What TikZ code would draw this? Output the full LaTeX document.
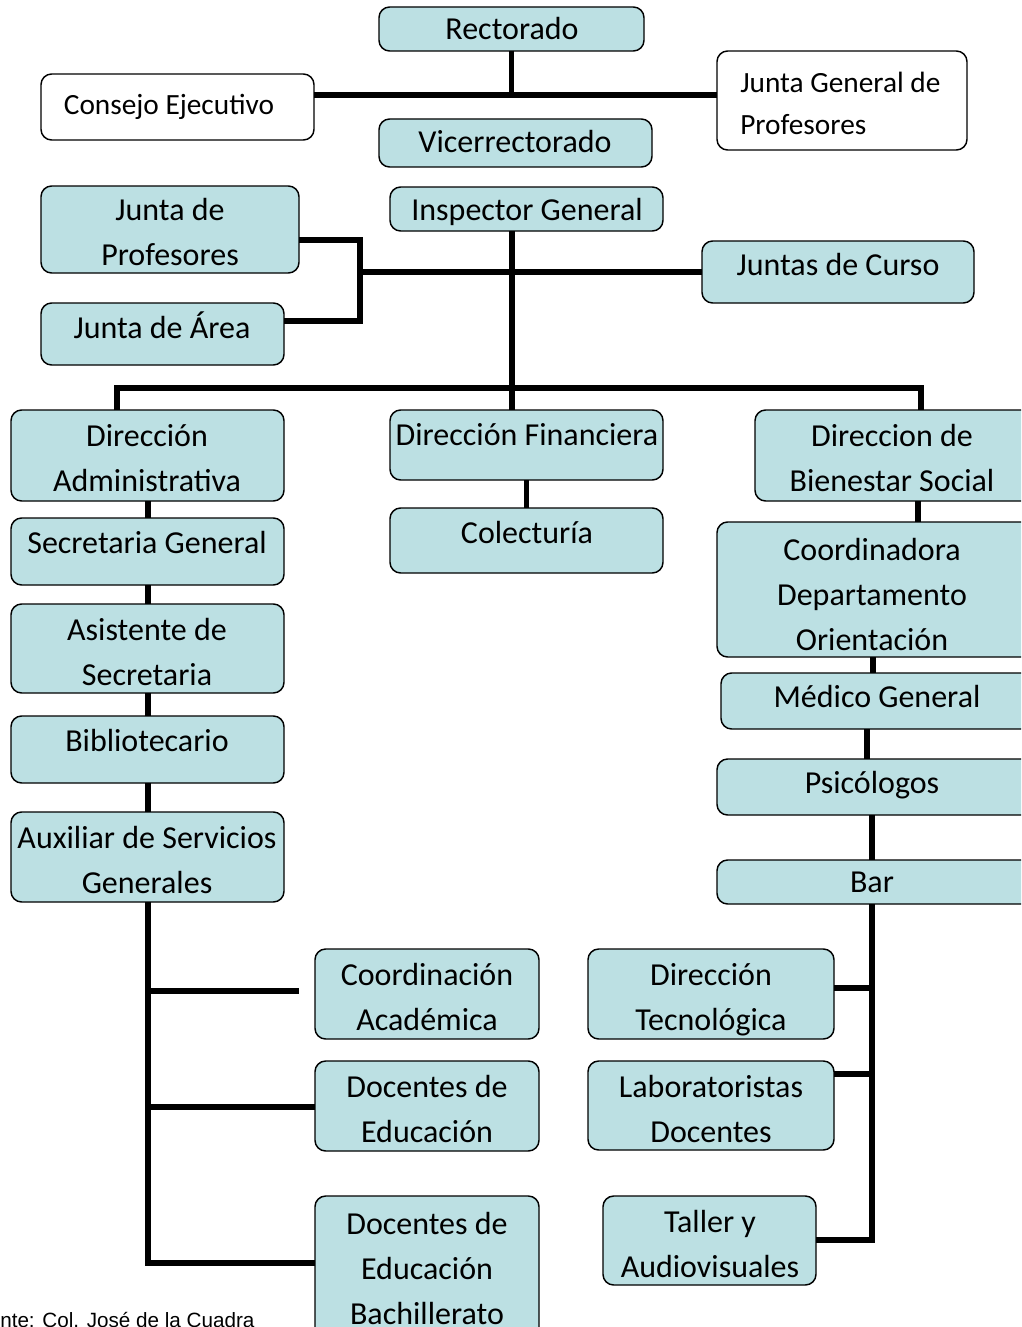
\documentclass[tikz,border=0pt]{standalone}
\usepackage{fontspec}
\setmainfont{Carlito}
\newfontfamily\arialfont{Liberation Sans}
\usetikzlibrary{fit}
\definecolor{boxblue}{RGB}{188,224,227}
\tikzset{
  box/.style={draw=black, line width=1.1pt, rounded corners=8pt, fill=boxblue, inner sep=0pt, outer sep=0pt},
  wbox/.style={box, fill=white},
  txt/.style={inner sep=0pt, align=center, anchor=base, font=\fontsize{24}{33.75}\selectfont},
  conn/.style={draw=black, line width=4.1pt},
}
\newcommand\orgbox[6]{\node[#6, fit={(#2,#3) (#4,#5)}] (#1) {};}
\begin{document}
\begin{tikzpicture}[x=0.75pt, y=-0.75pt]
\useasboundingbox (0,0) rectangle (1021,1327);
\clip (0,0) rectangle (1021,1327);
\fill[white] (0,0) rectangle (1021,1327);

\coordinate (cA) at (511.5,95);
\coordinate (cB) at (512,388);
\coordinate (cC) at (360,272);
\coordinate (cD) at (360,240);
\coordinate (cE) at (360,321);
\coordinate (cF) at (117,388);
\coordinate (cG) at (921,388);
\coordinate (cH) at (148,1263);
\coordinate (cI) at (148,991);
\coordinate (cJ) at (299,991);
\coordinate (cK) at (148,1107);
\coordinate (cL) at (918,0);
\coordinate (cM) at (873,0);
\coordinate (cN) at (867,0);
\coordinate (cP) at (872,1240);
\coordinate (cQ) at (872,988);
\coordinate (cR) at (872,1074);

% boxes
\orgbox{rect}{379}{7}{644}{51}{box}
\orgbox{cons}{41}{74}{314}{140}{wbox}
\orgbox{jgp}{717}{51}{967}{150}{wbox}
\orgbox{vice}{379}{119}{652}{167}{box}
\orgbox{insp}{390}{187}{663}{231}{box}
\orgbox{jprof}{41}{186}{299}{273}{box}
\orgbox{jarea}{41}{303}{284}{365}{box}
\orgbox{jcur}{702}{241}{974}{303}{box}
\orgbox{dadm}{11}{410}{284}{501}{box}
\orgbox{dfin}{390}{410}{663}{480}{box}
\orgbox{dbien}{755}{410}{1040}{501}{box}
\orgbox{secg}{11}{518}{284}{585}{box}
\orgbox{colec}{390}{508}{663}{573}{box}
\orgbox{coord}{717}{522}{1040}{657}{box}
\orgbox{asis}{11}{604}{284}{693}{box}
\orgbox{med}{721}{673}{1040}{729}{box}
\orgbox{bib}{11}{716}{284}{783}{box}
\orgbox{psi}{717}{759}{1040}{815}{box}
\orgbox{aux}{11}{812}{284}{902}{box}
\orgbox{bar}{717}{860}{1040}{904}{box}
\orgbox{cacad}{315}{949}{539}{1039}{box}
\orgbox{doce}{315}{1061}{539}{1151}{box}
\orgbox{docb}{315}{1196}{539}{1345}{box}
\orgbox{dtec}{588}{949}{834}{1039}{box}
\orgbox{lab}{588}{1061}{834}{1150}{box}
\orgbox{tall}{603}{1196}{816}{1285}{box}

% connectors
\draw[conn] (rect.south) -- (cA);
\draw[conn] (cons.east |- cA) -- (jgp.west |- cA);
\draw[conn] (cB |- insp.south) -- (cB);
\draw[conn] (cC) -- (jcur.west |- cC);
\draw[conn] (jprof.east |- cD) -- (cD) -- (cE) -- (jarea.east |- cE);
\draw[conn] (cF |- dadm.north) -- (cF) -- (cG) -- (cG |- dbien.north);
\draw[conn] (cB) -- (cB |- dfin.north);
\draw[conn] (dfin.south) -- (colec.north);
\draw[conn] (cI |- dadm.south) -- (cI |- secg.north);
\draw[conn] (cI |- secg.south) -- (cI |- asis.north);
\draw[conn] (cI |- asis.south) -- (cI |- bib.north);
\draw[conn] (cI |- bib.south) -- (cI |- aux.north);
\draw[conn] (cI |- aux.south) -- (cH) -- (docb.west |- cH);
\draw[conn] (cI) -- (cJ);
\draw[conn] (cK) -- (doce.west |- cK);
\draw[conn] (cL |- dbien.south) -- (cL |- coord.north);
\draw[conn] (cM |- coord.south) -- (cM |- med.north);
\draw[conn] (cN |- med.south) -- (cN |- psi.north);
\draw[conn] (cP |- psi.south) -- (cP |- bar.north);
\draw[conn] (cP |- bar.south) -- (cP) -- (tall.east |- cP);
\draw[conn] (dtec.east |- cQ) -- (cQ);
\draw[conn] (lab.east |- cR) -- (cR);

% texts (anchor = baseline of the last line)
\node[txt] (t-rect) at (512,40) {Rectorado};
\node[txt, font=\fontsize{22}{31.5}\selectfont] (t-cons) at (169,115) {Consejo Ejecutivo};
\node[txt, anchor=base west, align=left, font=\fontsize{22}{31.5}\selectfont] (t-jgp) at (740,135) {Junta General de\\Profesores};
\node[txt] (t-vice) at (515,152) {Vicerrectorado};
\node[txt] (t-insp) at (527,220) {Inspector General};
\node[txt] (t-jprof) at (170,265) {Junta de\\Profesores};
\node[txt] (t-jarea) at (162,338) {Junta de Área};
\node[txt] (t-jcur) at (838,275) {Juntas de Curso};
\node[txt] (t-dadm) at (147,491) {Dirección\\Administrativa};
\node[txt] (t-dfin) at (527,445) {Dirección Financiera};
\node[txt] (t-dbien) at (892,491) {Direccion de\\Bienestar Social};
\node[txt] (t-secg) at (147,553) {Secretaria General};
\node[txt] (t-colec) at (527,543) {Colecturía};
\node[txt] (t-coord) at (872,650) {Coordinadora\\Departamento\\Orientación};
\node[txt] (t-asis) at (147,685) {Asistente de\\Secretaria};
\node[txt] (t-med) at (877,707) {Médico General};
\node[txt] (t-bib) at (147,751) {Bibliotecario};
\node[txt] (t-psi) at (872,793) {Psicólogos};
\node[txt] (t-aux) at (147,893) {Auxiliar de Servicios\\Generales};
\node[txt] (t-bar) at (872,892) {Bar};
\node[txt] (t-cacad) at (427,1030) {Coordinación\\Académica};
\node[txt] (t-doce) at (427,1142) {Docentes de\\Educación};
\node[txt] (t-docb) at (427,1324) {Docentes de\\Educación\\Bachillerato};
\node[txt] (t-dtec) at (711,1030) {Dirección\\Tecnológica};
\node[txt] (t-lab) at (711,1142) {Laboratoristas\\Docentes};
\node[txt] (t-tall) at (710,1277) {Taller y\\Audiovisuales};
\node[inner sep=0pt, anchor=base west, font=\arialfont\fontsize{15.5}{18}\selectfont] (foot) at (0,1327) {nte: Col. José de la Cuadra};
\end{tikzpicture}
\end{document}
